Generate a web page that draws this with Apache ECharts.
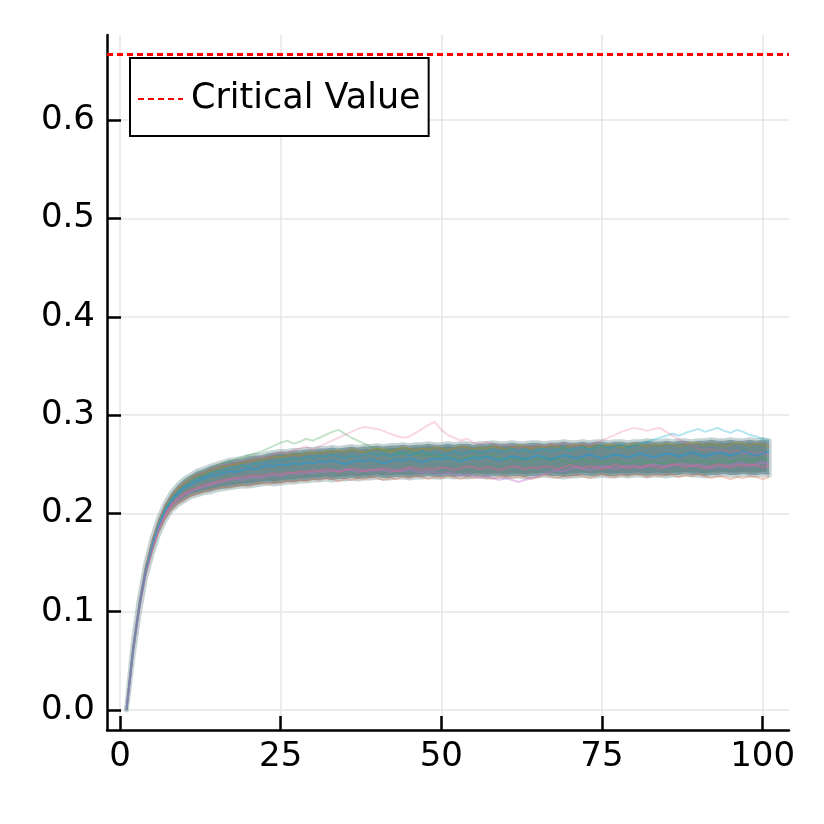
<!DOCTYPE html>
<html>
<head>
<meta charset="utf-8">
<script src="https://cdn.jsdelivr.net/npm/echarts@6/dist/echarts.min.js"></script>
<style>
  html, body { margin: 0; padding: 0; background: #fff; }
  #chart { width: 824px; height: 824px; }
</style>
</head>
<body>
<div id="chart"></div>
<script>
var steps = [1,2,3,4,5,6,7,8,9,10,11,12,13,14,15,16,17,18,19,20,21,22,23,24,25,26,27,28,29,30,
  31,32,33,34,35,36,37,38,39,40,41,42,43,44,45,46,47,48,49,50,51,52,53,54,55,56,57,58,59,60,
  61,62,63,64,65,66,67,68,69,70,71,72,73,74,75,76,77,78,79,80,81,82,83,84,85,86,87,88,89,90,
  91,92,93,94,95,96,97,98,99,100,101];

// dense core of the simulated paths (lower / upper edge)
var coreLow = [0,0.054,0.099,0.135,0.159,0.179,0.193,0.203,0.209,0.213,0.217,0.219,0.221,0.222,0.224,0.225,0.226,0.227,0.228,0.228,
  0.229,0.230,0.231,0.230,0.231,0.232,0.232,0.233,0.233,0.234,
  0.234,0.235,0.234,0.235,0.235,0.236,0.235,0.236,0.236,0.237,
  0.236,0.236,0.237,0.237,0.236,0.237,0.237,0.238,0.237,0.237,
  0.238,0.237,0.238,0.237,0.238,0.238,0.237,0.238,0.238,0.237,
  0.238,0.238,0.237,0.238,0.238,0.239,0.238,0.238,0.237,0.238,
  0.238,0.239,0.238,0.238,0.239,0.238,0.238,0.239,0.238,0.239,
  0.239,0.238,0.239,0.239,0.238,0.239,0.239,0.240,0.239,0.239,
  0.238,0.239,0.239,0.240,0.239,0.239,0.240,0.239,0.239,0.240,
  0.239];
var coreHigh = [0,0.066,0.113,0.149,0.175,0.195,0.210,0.221,0.229,0.235,0.239,0.243,0.245,0.248,0.250,0.252,0.254,0.255,0.256,0.258,
  0.259,0.259,0.261,0.262,0.263,0.263,0.264,0.264,0.265,0.265,
  0.266,0.266,0.267,0.266,0.267,0.268,0.267,0.268,0.268,0.269,
  0.268,0.269,0.269,0.270,0.269,0.270,0.270,0.271,0.270,0.270,
  0.271,0.270,0.271,0.271,0.270,0.271,0.271,0.272,0.271,0.271,
  0.272,0.271,0.271,0.272,0.272,0.271,0.272,0.272,0.273,0.272,
  0.272,0.273,0.272,0.273,0.273,0.272,0.273,0.273,0.272,0.273,
  0.273,0.274,0.273,0.273,0.274,0.273,0.274,0.274,0.273,0.274,
  0.274,0.275,0.274,0.274,0.275,0.274,0.274,0.275,0.274,0.275,
  0.274];

// single paths that stand out from the bundle
var pathPink = [0,0.062,0.110,0.147,0.173,0.193,0.208,0.218,0.226,0.231,
  0.236,0.240,0.242,0.245,0.247,0.250,0.249,0.252,0.254,0.253,
  0.256,0.258,0.257,0.260,0.262,0.261,0.264,0.266,0.268,0.265,
  0.268,0.271,0.274,0.277,0.280,0.283,0.286,0.288,0.287,0.286,
  0.284,0.281,0.279,0.277,0.278,0.282,0.286,0.290,0.293,0.285,
  0.280,0.277,0.274,0.276,0.272,0.270,0.273,0.271,0.268,0.270,
  0.268,0.266,0.269,0.267,0.270,0.268,0.271,0.269,0.272,0.270,
  0.268,0.271,0.269,0.272,0.274,0.277,0.280,0.283,0.285,0.287,
  0.286,0.284,0.286,0.287,0.283,0.279,0.275,0.272,0.269,0.266,
  0.264,0.266,0.263,0.265,0.262,0.264,0.261,0.263,0.260,0.262,
  0.259];
var pathCyan = [0,0.061,0.108,0.144,0.170,0.190,0.205,0.216,0.223,0.228,
  0.233,0.236,0.238,0.241,0.243,0.244,0.247,0.246,0.249,0.248,
  0.251,0.250,0.253,0.252,0.255,0.254,0.256,0.255,0.258,0.256,
  0.259,0.257,0.260,0.258,0.256,0.259,0.257,0.260,0.262,0.259,
  0.261,0.258,0.260,0.262,0.259,0.261,0.263,0.260,0.262,0.259,
  0.261,0.263,0.260,0.262,0.264,0.261,0.263,0.265,0.262,0.264,
  0.266,0.263,0.265,0.262,0.264,0.266,0.263,0.265,0.267,0.264,
  0.266,0.268,0.265,0.267,0.269,0.266,0.268,0.270,0.267,0.269,
  0.271,0.273,0.275,0.277,0.279,0.281,0.279,0.282,0.284,0.286,
  0.283,0.285,0.287,0.284,0.282,0.285,0.283,0.280,0.278,0.276,
  0.274];
var pathGreen = [0,0.060,0.107,0.144,0.170,0.191,0.207,0.218,0.226,0.232,
  0.237,0.240,0.243,0.246,0.248,0.251,0.253,0.255,0.257,0.259,
  0.261,0.263,0.266,0.269,0.272,0.274,0.271,0.273,0.276,0.274,
  0.277,0.280,0.283,0.285,0.281,0.277,0.274,0.271,0.268,0.266,
  0.263,0.265,0.262,0.260,0.263,0.261,0.258,0.260,0.257,0.259,
  0.256,0.258,0.255,0.257,0.259,0.256,0.258,0.260,0.257,0.255,
  0.257,0.254,0.256,0.253,0.255,0.257,0.254,0.256,0.253,0.251,
  0.253,0.255,0.252,0.254,0.251,0.253,0.255,0.252,0.250,0.252,
  0.254,0.251,0.253,0.250,0.252,0.254,0.251,0.253,0.255,0.252,
  0.254,0.251,0.253,0.255,0.252,0.254,0.256,0.253,0.255,0.257,
  0.254];
var pathOrange = [0,0.058,0.103,0.138,0.162,0.181,0.195,0.204,0.210,0.214,
  0.218,0.220,0.222,0.224,0.225,0.227,0.226,0.228,0.229,0.228,
  0.230,0.231,0.230,0.232,0.231,0.233,0.232,0.234,0.233,0.235,
  0.234,0.236,0.235,0.233,0.235,0.234,0.236,0.235,0.237,0.236,
  0.234,0.236,0.235,0.237,0.236,0.238,0.237,0.235,0.237,0.236,
  0.238,0.237,0.235,0.237,0.236,0.238,0.236,0.235,0.237,0.238,
  0.236,0.238,0.237,0.235,0.237,0.239,0.238,0.236,0.238,0.237,
  0.239,0.238,0.236,0.238,0.240,0.238,0.237,0.239,0.238,0.240,
  0.239,0.237,0.239,0.238,0.240,0.239,0.237,0.239,0.238,0.240,
  0.238,0.236,0.238,0.237,0.235,0.237,0.236,0.238,0.237,0.235,
  0.237];
var pathBlue = [0,0.060,0.106,0.142,0.167,0.187,0.203,0.213,0.220,0.226,
  0.229,0.233,0.235,0.238,0.239,0.241,0.243,0.242,0.244,0.246,
  0.245,0.247,0.249,0.248,0.250,0.249,0.251,0.250,0.252,0.251,
  0.253,0.252,0.254,0.252,0.250,0.252,0.254,0.253,0.255,0.253,
  0.251,0.253,0.255,0.254,0.256,0.254,0.252,0.254,0.256,0.255,
  0.257,0.255,0.253,0.255,0.257,0.256,0.258,0.256,0.254,0.256,
  0.258,0.257,0.255,0.257,0.259,0.257,0.255,0.257,0.259,0.258,
  0.256,0.258,0.260,0.258,0.256,0.258,0.260,0.259,0.257,0.259,
  0.261,0.259,0.257,0.259,0.261,0.260,0.258,0.260,0.262,0.260,
  0.258,0.260,0.262,0.261,0.259,0.261,0.263,0.261,0.259,0.261,
  0.263];
var pathPurple = [0,0.059,0.104,0.140,0.164,0.184,0.198,0.208,0.214,0.219,
  0.222,0.225,0.227,0.229,0.231,0.232,0.234,0.235,0.234,0.236,
  0.237,0.236,0.238,0.239,0.238,0.240,0.241,0.240,0.242,0.241,
  0.243,0.242,0.244,0.243,0.245,0.244,0.242,0.244,0.243,0.245,
  0.244,0.242,0.244,0.243,0.245,0.243,0.241,0.243,0.242,0.240,
  0.242,0.240,0.238,0.240,0.238,0.236,0.238,0.236,0.234,0.236,
  0.234,0.232,0.234,0.236,0.238,0.240,0.242,0.244,0.243,0.245,
  0.247,0.246,0.244,0.246,0.248,0.247,0.245,0.247,0.249,0.248,
  0.246,0.248,0.250,0.249,0.247,0.249,0.251,0.250,0.248,0.250,
  0.248,0.246,0.248,0.247,0.249,0.251,0.250,0.248,0.250,0.252,
  0.250];
var pathRose = [0,0.059,0.105,0.141,0.165,0.185,0.199,0.209,0.215,0.220,
  0.224,0.226,0.229,0.230,0.232,0.234,0.235,0.236,0.237,0.238,
  0.239,0.238,0.240,0.241,0.240,0.242,0.241,0.243,0.242,0.244,
  0.243,0.245,0.244,0.242,0.244,0.246,0.245,0.243,0.245,0.244,
  0.246,0.245,0.243,0.245,0.247,0.246,0.244,0.246,0.245,0.247,
  0.246,0.244,0.246,0.248,0.247,0.245,0.247,0.246,0.244,0.246,
  0.248,0.247,0.245,0.247,0.246,0.248,0.247,0.245,0.247,0.249,
  0.248,0.246,0.248,0.247,0.245,0.247,0.249,0.248,0.246,0.248,
  0.247,0.249,0.248,0.246,0.248,0.250,0.249,0.247,0.249,0.248,
  0.246,0.248,0.250,0.249,0.247,0.249,0.248,0.250,0.249,0.247,
  0.249];
var pathGold = [0,0.061,0.108,0.145,0.171,0.191,0.206,0.217,0.225,0.230,
  0.234,0.238,0.240,0.243,0.245,0.247,0.248,0.250,0.251,0.253,
  0.254,0.255,0.256,0.258,0.257,0.259,0.260,0.259,0.261,0.262,
  0.261,0.263,0.262,0.264,0.263,0.265,0.264,0.262,0.264,0.266,
  0.265,0.263,0.265,0.267,0.266,0.264,0.266,0.265,0.267,0.266,
  0.264,0.266,0.268,0.267,0.265,0.267,0.266,0.268,0.267,0.265,
  0.267,0.269,0.268,0.266,0.268,0.267,0.269,0.268,0.266,0.268,
  0.270,0.269,0.267,0.269,0.268,0.270,0.269,0.267,0.269,0.271,
  0.270,0.268,0.270,0.269,0.271,0.270,0.268,0.270,0.272,0.271,
  0.269,0.271,0.270,0.268,0.270,0.272,0.271,0.269,0.271,0.270,
  0.268];

var criticalValue = 0.6667;
var xTicks = [0, 25, 50, 75, 100];
var yTicks = [0, 0.1, 0.2, 0.3, 0.4, 0.5, 0.6];

var paths = [
  {values: pathGreen,  color: '#3EA44E', opacity: 0.3},
  {values: pathOrange, color: '#E36F47', opacity: 0.35},
  {values: pathPurple, color: '#C371D2', opacity: 0.4},
  {values: pathGold,   color: '#AC8E18', opacity: 0.4},
  {values: pathRose,   color: '#ED5E93', opacity: 0.4},
  {values: pathBlue,   color: '#009AFA', opacity: 0.4},
  {values: pathCyan,   color: '#00A9CD', opacity: 0.3},
  {values: pathPink,   color: '#ED5E93', opacity: 0.25}
];

function pairs(vals) {
  return vals.map(function (v, i) { return [steps[i], v]; });
}

var chart = echarts.init(document.getElementById('chart'), null, {renderer: 'canvas'});
var font = 'DejaVu Sans';
function bandFill() {
  return new echarts.graphic.LinearGradient(0, 0, 1, 0, [
    {offset: 0, color: 'rgb(140,140,130)'},
    {offset: 0.05, color: 'rgb(122,140,136)'},
    {offset: 0.12, color: 'rgb(110,140,142)'},
    {offset: 1, color: 'rgb(108,139,142)'}
  ]);
}

// core band as one polygon, points placed through the axes
function renderBand(params, api) {
  if (params.dataIndex !== 0) return null;
  var upper = [], lower = [];
  for (var i = 0; i < steps.length; i++) {
    upper.push(api.coord([steps[i], coreHigh[i]]));
    lower.unshift(api.coord([steps[i], coreLow[i]]));
  }
  return {
    type: 'polygon',
    shape: {points: upper.concat(lower)},
    style: {fill: bandFill(), stroke: 'rgba(150,175,178,0.55)', lineWidth: 5, lineJoin: 'round'}
  };
}

var series = [{
  type: 'custom', name: 'core', silent: true, z: 2,
  renderItem: renderBand,
  data: steps.map(function (s, i) { return [s, coreLow[i], coreHigh[i]]; }),
  encode: {x: 0, y: [1, 2]}
}];
paths.forEach(function (p) {
  series.push({
    type: 'line', data: pairs(p.values), symbol: 'none', silent: true, z: 3,
    lineStyle: {width: 2, color: p.color, opacity: p.opacity}
  });
});
series.push({
  type: 'line', name: 'Critical Value', data: [], symbol: 'none', z: 5,
  lineStyle: {color: '#ff0000', width: 3, type: [6, 4]},
  markLine: {
    silent: true, symbol: 'none', precision: 4, label: {show: false},
    lineStyle: {color: '#ff0000', width: 3, type: [6, 4]},
    data: [{yAxis: criticalValue}]
  }
});

chart.setOption({
  animation: false,
  backgroundColor: '#fff',
  grid: {left: 107, right: 35, top: 35, bottom: 94, containLabel: false},
  legend: {
    data: ['Critical Value'],
    left: 130, top: 58,
    backgroundColor: '#fff',
    borderColor: '#000', borderWidth: 2, borderRadius: 0,
    padding: [22, 8, 18, 7],
    itemWidth: 45, itemHeight: 20,
    selectedMode: false,
    itemStyle: {opacity: 0},
    textStyle: {fontSize: 35, fontFamily: font, color: '#000', lineHeight: 38, padding: [0, 0, 0, 3]}
  },
  xAxis: {
    type: 'value', min: -2.03, max: 104.1,
    axisLine: {onZero: false, lineStyle: {color: '#000', width: 2.5}},
    axisTick: {inside: true, length: 14, customValues: xTicks, lineStyle: {color: '#000', width: 2.5}},
    axisLabel: {customValues: xTicks, color: '#000', fontSize: 34, fontFamily: font, margin: 10},
    splitLine: {show: true, lineStyle: {color: '#e6e6e6', width: 1.5}}
  },
  yAxis: {
    type: 'value', min: -0.0203, max: 0.6867,
    axisLine: {onZero: false, lineStyle: {color: '#000', width: 2.5}},
    axisTick: {inside: true, length: 14, customValues: yTicks, lineStyle: {color: '#000', width: 2.5}},
    axisLabel: {
      customValues: yTicks, color: '#000', fontSize: 34, fontFamily: font, margin: 12,
      formatter: function (v) { return v.toFixed(1); }
    },
    splitLine: {show: true, lineStyle: {color: '#e6e6e6', width: 1.5}}
  },
  series: series
});
</script>
</body>
</html>
